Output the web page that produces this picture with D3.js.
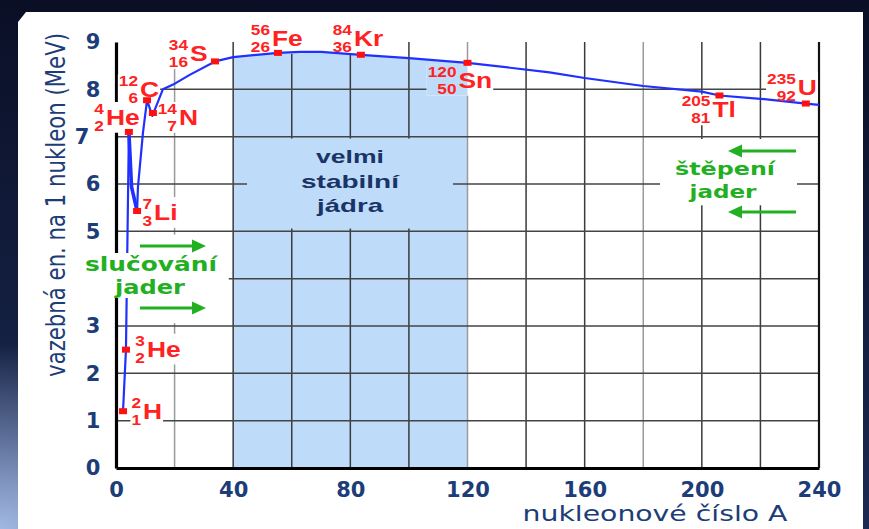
<!DOCTYPE html>
<html><head><meta charset="utf-8">
<script src="https://cdn.jsdelivr.net/npm/d3@7"></script>
<style>html,body{margin:0;padding:0;background:#0b1128;} svg{display:block;}</style>
</head><body>
<svg id="c" width="869" height="529"></svg>
<script>
// ---------- data ----------
const xTicks = [0, 40, 80, 120, 160, 200, 240];
const yTicks = [0, 1, 2, 3, 5, 6, 7, 8, 9];   // "4" is hidden behind the fusion label in the original
const gridX = [20, 40, 60, 80, 100, 120, 140, 160, 180, 200, 220];
const gridY = [1, 2, 3, 4, 5, 6, 7, 8];
const curveA = [2.4, 3.4, 4.4, 5.3, 7.2, 7.5, 9.2, 10.6, 12.4, 16, 19.5, 25, 33.8, 40, 55.3, 63, 70, 83.6, 100, 120, 148, 160, 180, 200, 206, 220, 235.5, 240];
const curveE = [1.2, 2.5, 7.1, 5.94, 5.43, 5.94, 7.08, 7.77, 7.44, 8.0, 8.1, 8.3, 8.59, 8.68, 8.77, 8.79, 8.79, 8.73, 8.66, 8.56, 8.36, 8.24, 8.07, 7.95, 7.87, 7.8, 7.7, 7.67];
const nuclideSymbol = ["H", "He", "He", "Li", "C", "N", "S", "Fe", "Kr", "Sn", "Tl", "U"];
const nuclideMass = [2, 3, 4, 7, 12, 14, 34, 56, 84, 120, 205, 235];
const nuclideZ = [1, 2, 2, 3, 6, 7, 16, 26, 36, 50, 81, 92];
const nuclideA = [2.4, 3.4, 4.4, 7.2, 10.6, 12.6, 33.8, 55.3, 83.6, 120, 206, 235.5];
const nuclideE = [1.2, 2.5, 7.1, 5.43, 7.77, 7.5, 8.59, 8.77, 8.73, 8.56, 7.87, 7.7];
const stableRange = [40, 120];
const xTitle = "nukleonové číslo A";
const yTitle = "vazebná en. na 1 nukleon (MeV)";
const stableText = ["velmi", "stabilní", "jádra"];
const fusionText = ["slučování", "jader"];
const fissionText = ["štěpení", "jader"];

// label placement (pixel offsets from marker), kept apart from the data
const labelDx = [20, 21, -23, 17, -7, 26, -25, -6, -7, -9, -7, -8];
const labelDy = [8, 7, -7, 9, -3, 12, 0, -7, -9, 25, 22, -9];

// ---------- setup ----------
const W = 869, H = 529;
const svg = d3.select("#c");
const x = d3.scaleLinear().domain([0, 240]).range([116, 819]);
const y = d3.scaleLinear().domain([0, 9]).range([468, 42]);
const NAVY = "#1d3d78", RED = "#ff2222", GREEN = "#22b022", BLUE = "#2030ff", LIGHT = "#bedcfa";
const SANS = "'DejaVu Sans', sans-serif", ARIAL = "'Liberation Sans', Arial, sans-serif";

const defs = svg.append("defs");
const bgGrad = defs.append("linearGradient").attr("id", "bg").attr("x1", 0).attr("y1", 0).attr("x2", 0).attr("y2", 1);
bgGrad.append("stop").attr("offset", 0).attr("stop-color", "#0a0f26");
bgGrad.append("stop").attr("offset", 1).attr("stop-color", "#1a2a52");
const rg = defs.append("radialGradient").attr("id", "glow").attr("cx", 0).attr("cy", 1).attr("r", 0.35);
rg.append("stop").attr("offset", 0).attr("stop-color", "#a9c0ec").attr("stop-opacity", 0.95);
rg.append("stop").attr("offset", 1).attr("stop-color", "#a9c0ec").attr("stop-opacity", 0);

const L = {};
["bg", "area", "grid", "zones", "axes", "labelBg", "curve", "markers", "textBg", "texts"].forEach(k => L[k] = svg.append("g"));

// background
L.bg.append("rect").attr("width", W).attr("height", H).attr("fill", "url(#bg)");
L.bg.append("rect").attr("width", W).attr("height", H).attr("fill", "url(#glow)");
L.bg.append("path").attr("d", "M18,22 L26,12 L863,12 L863,529 L18,529 Z").attr("fill", "#ffffff");

// stable area under curve
const curve = curveA.map((a, i) => ({ a, e: curveE[i] }));
const stable = curve.filter(d => d.a >= stableRange[0] && d.a <= stableRange[1]);
const areaGen = d3.area().x(d => x(d.a)).y0(y(0)).y1(d => y(d.e));
L.area.append("path").attr("d", areaGen(stable)).attr("fill", LIGHT);

// grid
const grayX = new Set([20, 120, 180]);
L.grid.selectAll("line.v").data(gridX).join("line")
  .attr("x1", d => x(d)).attr("x2", d => x(d)).attr("y1", y(0)).attr("y2", y(9))
  .attr("stroke", d => grayX.has(d) ? "#9a9a9a" : "#3a3a3a").attr("stroke-width", 1.5);
L.grid.selectAll("line.h").data(gridY).join("line")
  .attr("x1", x(0)).attr("x2", x(240)).attr("y1", d => y(d)).attr("y2", d => y(d))
  .attr("stroke", "#444").attr("stroke-width", 1.5);

// zones hiding grid behind annotations
L.zones.append("rect").attr("x", x(0.7)).attr("y", y(4.93)).attr("width", x(38.5) - x(0.7)).attr("height", y(3.06) - y(4.93)).attr("fill", "#fff");
L.zones.append("rect").attr("x", 660).attr("y", y(6.95)).attr("width", 137).attr("height", y(5.55) - y(6.95)).attr("fill", "#fff");
L.zones.append("rect").attr("x", 247).attr("y", y(6.96)).attr("width", 206).attr("height", y(5.06) - y(6.96)).attr("fill", LIGHT);

// axes
const xAxis = d3.axisBottom(x).tickValues(xTicks).tickSize(0).tickSizeOuter(0).tickPadding(14);
const gx = L.axes.append("g").attr("transform", `translate(0,${y(0)})`).call(xAxis);
gx.select(".domain").attr("stroke", "#000").attr("stroke-width", 3.2);
gx.selectAll("text").attr("font-family", SANS).attr("font-weight", "bold").attr("font-size", 21).attr("fill", NAVY);

const yAxis = d3.axisLeft(y).tickValues(yTicks).tickSize(0).tickSizeOuter(0);
const gy = L.axes.append("g").attr("transform", `translate(${x(0)},0)`).call(yAxis);
gy.select(".domain").attr("stroke", "#000").attr("stroke-width", 3.2);
gy.selectAll("text").attr("font-family", SANS).attr("font-weight", "bold").attr("font-size", 21).attr("fill", NAVY)
  .attr("text-anchor", "middle").attr("x", d => d === 7 ? -34 : -23);
L.axes.append("line").attr("x1", x(240)).attr("x2", x(240)).attr("y1", y(0)).attr("y2", y(9))
  .attr("stroke", "#111").attr("stroke-width", 2.2);

// fit helper
function fitText(parent, str, px, py, o) {
  const g = parent.append("g");
  const t = g.append("text").text(str).attr("text-anchor", o.anchor || "middle")
    .attr("font-family", o.font || SANS).attr("font-weight", o.weight || "normal")
    .attr("font-size", o.size).attr("fill", o.fill);
  const len = t.node().getComputedTextLength();
  const sx = o.width ? o.width / len : (o.sx || 1);
  g.attr("transform", `translate(${px},${py})${o.rotate ? ` rotate(${o.rotate})` : ""} scale(${sx},${o.sy || 1})`);
  return g;
}

// axis titles
fitText(L.texts, xTitle, 655, 521, { size: 21, fill: NAVY, width: 265 });
fitText(L.texts, yTitle, 65, 205, { size: 20, fill: NAVY, width: 344, rotate: -90, sy: 1.3 });

// nuclide labels
const labelGroups = [];
nuclideSymbol.forEach((s, i) => {
  const px = x(nuclideA[i]) + labelDx[i], py = y(nuclideE[i]) + labelDy[i];
  const g = L.texts.append("g").attr("transform", `translate(${px},${py})`);
  g.append("text").text(s).attr("transform", "scale(1.2,1)")
    .attr("font-family", ARIAL).attr("font-weight", "bold").attr("font-size", 22).attr("fill", RED);
  g.append("text").text(nuclideMass[i]).attr("transform", "translate(-2,-11) scale(1.15,1)").attr("text-anchor", "end")
    .attr("font-family", ARIAL).attr("font-weight", "bold").attr("font-size", 15).attr("fill", RED);
  g.append("text").text(nuclideZ[i]).attr("transform", "translate(-2,6) scale(1.15,1)").attr("text-anchor", "end")
    .attr("font-family", ARIAL).attr("font-weight", "bold").attr("font-size", 15).attr("fill", RED);
  labelGroups.push({ px, py, g });
});
const clip = defs.append("clipPath").attr("id", "lblclip");
labelGroups.forEach(({ px, py, g }) => {
  const b = g.node().getBBox();
  const r = { x: px + b.x - 1, y: py + b.y + 2, w: b.width + 2, h: b.height - 3 };
  L.labelBg.append("rect").attr("x", r.x).attr("y", r.y).attr("width", r.w).attr("height", r.h).attr("fill", "#fff");
  clip.append("rect").attr("x", r.x).attr("y", r.y).attr("width", r.w).attr("height", r.h);
});
L.labelBg.append("path").attr("d", areaGen(stable)).attr("fill", LIGHT).attr("clip-path", "url(#lblclip)");

// curve
const lineGen = d3.line().x(d => x(d.a)).y(d => y(d.e));
L.curve.append("path").attr("d", lineGen(curve)).attr("fill", "none").attr("stroke", BLUE).attr("stroke-width", 2.2).attr("stroke-linejoin", "round");
L.curve.append("path").attr("d", lineGen(curve.slice(2, 5))).attr("fill", "none").attr("stroke", BLUE).attr("stroke-width", 3.6);

// markers
L.markers.selectAll("rect").data(nuclideA).join("rect")
  .attr("x", d => x(d) - 4).attr("y", (d, i) => y(nuclideE[i]) - 3).attr("width", 8).attr("height", 6).attr("fill", "#ff1010");

// annotations
L.textBg.append("rect").attr("x", 82).attr("y", 253).attr("width", 146).attr("height", 45).attr("fill", "#fff");
fitText(L.texts, fusionText[0], 151, 270.5, { size: 19, fill: GREEN, weight: "bold", width: 132 });
fitText(L.texts, fusionText[1], 150, 293.5, { size: 19, fill: GREEN, weight: "bold", width: 70 });
fitText(L.texts, fissionText[0], 725, 175, { size: 18, fill: GREEN, weight: "bold", width: 100 });
fitText(L.texts, fissionText[1], 723, 198, { size: 18, fill: GREEN, weight: "bold", width: 67 });
stableText.forEach((t, i) => fitText(L.texts, t, 350, 163 + i * 24.5, { size: 18, fill: "#1b3466", weight: "bold", font: ARIAL, width: [68, 98, 66][i] }));

function arrow(x1, x2, yy) {
  const dir = Math.sign(x2 - x1);
  L.texts.append("line").attr("x1", x1).attr("x2", x2 - dir * 11).attr("y1", yy).attr("y2", yy).attr("stroke", GREEN).attr("stroke-width", 3);
  L.texts.append("path").attr("d", `M${x2},${yy} L${x2 - dir * 14},${yy - 6.5} L${x2 - dir * 14},${yy + 6.5} Z`).attr("fill", GREEN);
}
arrow(140, 206, 246);
arrow(140, 206, 308);
arrow(796, 728, 151);
arrow(796, 728, 212);
</script>
</body></html>
